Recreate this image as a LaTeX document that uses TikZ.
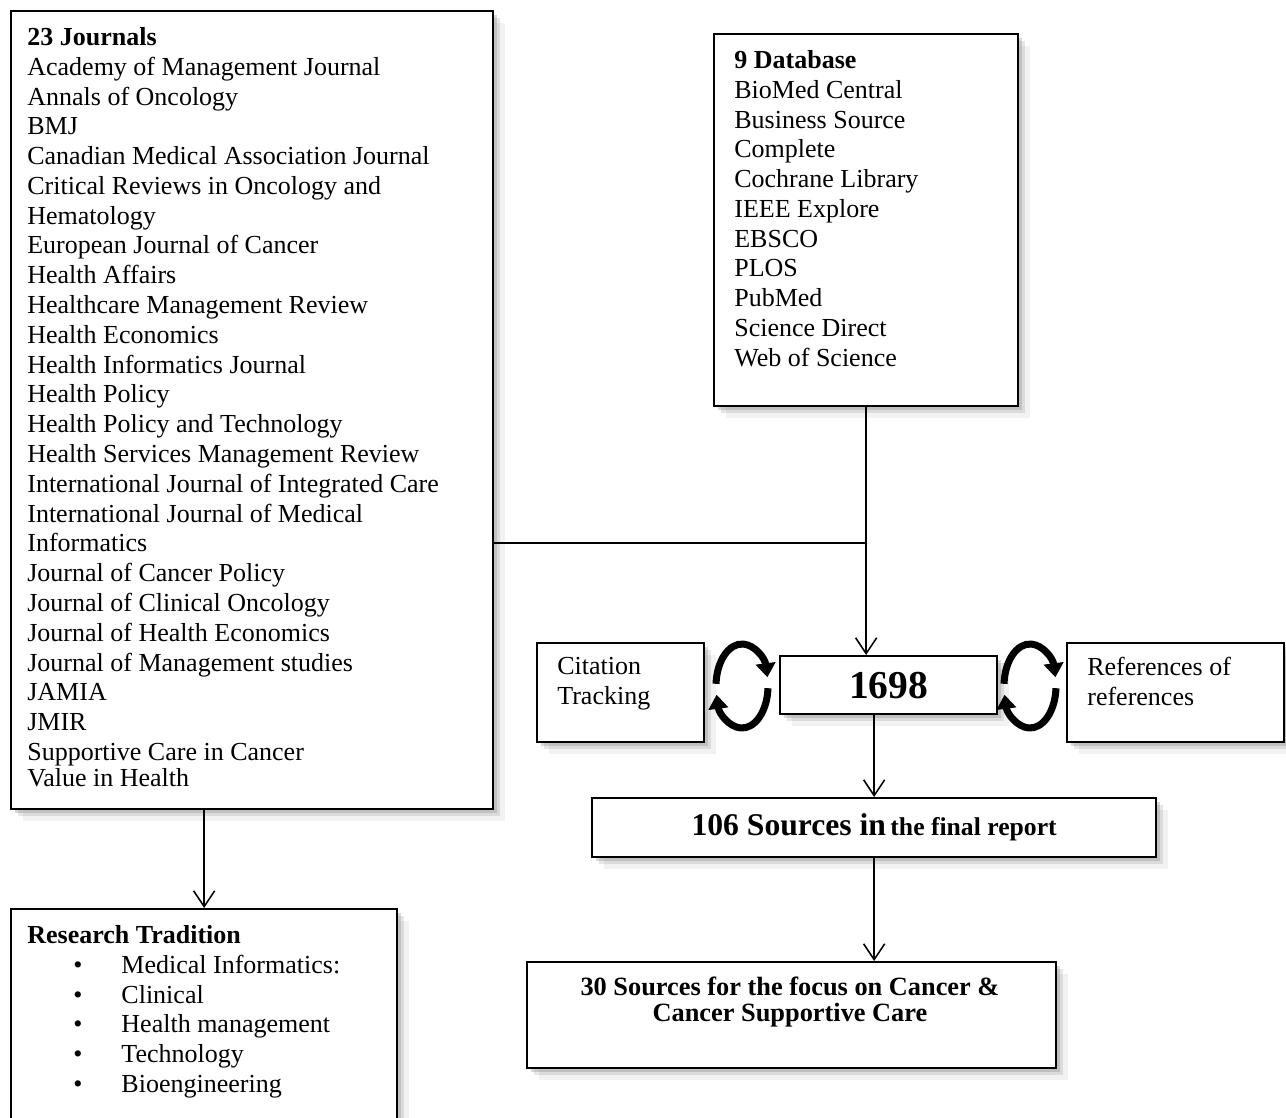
\documentclass[tikz,border=0pt]{standalone}
\usepackage{fontspec}
\setmainfont{Liberation Serif}
\usetikzlibrary{arrows.meta,shadows}
\newlength{\px}\setlength{\px}{0.02cm}
\newcommand{\bodyfont}{\fontsize{14.8}{16.96}\selectfont}
\newcommand{\tradline}[1]{\hspace*{46\px}\textbullet\hspace*{39\px}#1}
\begin{document}
\begin{tikzpicture}[x=0.02cm, y=-0.02cm,
  box/.style={draw, line width=1.3pt, fill=white, inner sep=0pt, anchor=north west,
    drop shadow={shadow xshift=2pt, shadow yshift=-2pt, opacity=0.3},
    drop shadow={shadow xshift=4pt, shadow yshift=-4pt, opacity=0.2},
    drop shadow={shadow xshift=6.5pt, shadow yshift=-6.5pt, opacity=0.1}},
  txt/.style={font=\bodyfont, align=left, inner sep=0pt, anchor=north west},
  arr/.style={line width=0.9pt, -{Straight Barb[length=9pt,width=12pt]}},
  cyclearrow/.style={line width=4pt, -{Triangle[length=8pt,width=11pt]}}]
\useasboundingbox (0,0) rectangle (1286,1117);
\clip (0,0) rectangle (1286,1117);

% journals
\node[box, minimum width=482\px, minimum height=798\px] (jour) at (10,10) {};
\node[txt] (jourtext) at (27,27) {\textbf{23 Journals}\\
Academy of Management Journal\\
Annals of Oncology\\
BMJ\\
Canadian Medical Association Journal\\
Critical Reviews in Oncology and\\
Hematology\\
European Journal of Cancer\\
Health Affairs\\
Healthcare Management Review\\
Health Economics\\
Health Informatics Journal\\
Health Policy\\
Health Policy and Technology\\
Health Services Management Review\\
International Journal of Integrated Care\\
International Journal of Medical\\
Informatics\\
Journal of Cancer Policy\\
Journal of Clinical Oncology\\
Journal of Health Economics\\
Journal of Management studies\\
JAMIA\\
JMIR\\
Supportive Care in Cancer\\[-2pt]
Value in Health};

% databases
\node[box, minimum width=304\px, minimum height=372\px] (db) at (713,33) {};
\node[txt] (dbtext) at (734,50) {\textbf{9 Database}\\
BioMed Central\\
Business Source\\
Complete\\
Cochrane Library\\
IEEE Explore\\
EBSCO\\
PLOS\\
PubMed\\
Science Direct\\
Web of Science};

% middle row
\node[box, minimum width=167\px, minimum height=99\px] (cite) at (536,642) {};
\node[txt] (citetext) at (557,657) {Citation\\Tracking};
\node[box, minimum width=217\px, minimum height=58\px,
  font=\fontsize{22.5}{24}\selectfont\bfseries] (total) at (779,655) {1698};
\node[box, minimum width=217\px, minimum height=99\px] (refs) at (1066,642) {};
\node[txt] (refstext) at (1087,657) {References of\\references};

% results
\node[box, minimum width=564\px, minimum height=59\px, font=\bfseries] (final) at (591,797)
  {{\fontsize{18}{20}\selectfont 106 Sources in} {\fontsize{14.6}{16}\selectfont the final report}};
\node[box, minimum width=529\px, minimum height=106\px] (focus) at (526,961) {};
\node[txt, anchor=north, align=center, font=\fontsize{15}{14.8}\selectfont\bfseries] (focustext) at (790,977)
  {30 Sources for the focus on Cancer \&\\Cancer Supportive Care};

% research tradition
\node[box, minimum width=386\px, minimum height=240\px] (trad) at (10,908) {};
\node[txt] (tradtext) at (27,925) {\textbf{Research Tradition}\\
\tradline{Medical Informatics:}\\
\tradline{Clinical}\\
\tradline{Health management}\\
\tradline{Technology}\\
\tradline{Bioengineering}};

% connectors
\coordinate (join) at (db.south |- 0,543);
\draw[arr] (trad.north |- jour.south) -- (trad.north);
\draw[arr] (db.south) -- (db.south |- total.north);
\draw[line width=0.9pt] (join -| jour.east) -- (join);
\draw[arr] (final.north |- total.south) -- (final.north);
\draw[arr] (final.south) -- (final.south |- focus.north);

% cycle icons
\coordinate (lcyc) at (742,686);
\coordinate (rcyc) at (1030,686);
\draw[cyclearrow] ([shift={(183:26 and 42)}]lcyc) arc[start angle=183, end angle=348, x radius=26, y radius=42];
\draw[cyclearrow] ([shift={(3:26 and 42)}]lcyc) arc[start angle=3, end angle=168, x radius=26, y radius=42];
\draw[cyclearrow] ([shift={(183:26 and 42)}]rcyc) arc[start angle=183, end angle=348, x radius=26, y radius=42];
\draw[cyclearrow] ([shift={(3:26 and 42)}]rcyc) arc[start angle=3, end angle=168, x radius=26, y radius=42];
\end{tikzpicture}
\end{document}
